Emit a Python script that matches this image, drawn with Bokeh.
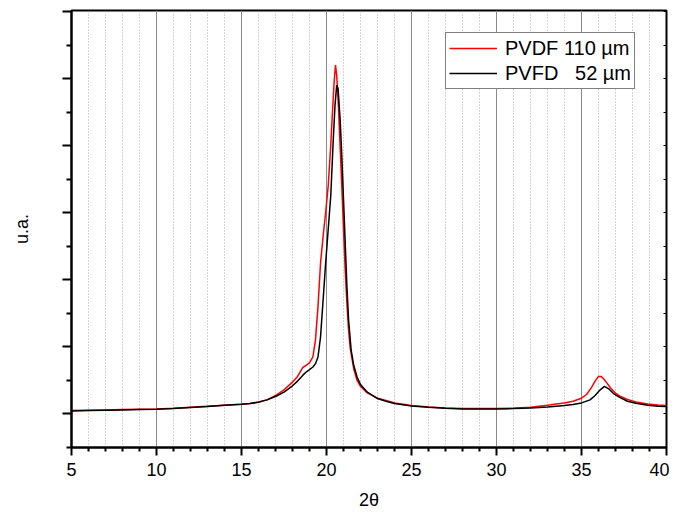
from bokeh.plotting import figure
from bokeh.models import FixedTicker, Range1d, LinearAxis, Legend, LegendItem
from bokeh.embed import file_html
from bokeh.resources import INLINE

# ---- data (arbitrary units) ----
x_red = [5, 6, 7, 8, 9, 10, 11, 12, 13, 14, 15, 15.5, 16, 16.5, 17, 17.5, 18, 18.3, 18.6, 18.8,
         19.0, 19.2, 19.35, 19.5, 19.65, 19.8, 19.95, 20.1, 20.25, 20.35, 20.45, 20.53, 20.6, 20.7,
         20.8, 20.9, 21.0, 21.1, 21.2, 21.3, 21.4, 21.6, 21.8, 22.0, 22.4, 23.0, 23.5, 24, 25, 26,
         27, 28, 29, 30, 31, 32, 33, 33.5, 34, 34.5, 35, 35.3, 35.6, 35.8, 36.0, 36.15, 36.3, 36.5,
         36.7, 37.0, 37.3, 37.7, 38.2, 38.9, 39.5, 40]
y_red = [1.10, 1.11, 1.12, 1.13, 1.14, 1.15, 1.17, 1.20, 1.23, 1.26, 1.29, 1.31, 1.36, 1.42, 1.55,
         1.72, 1.95, 2.12, 2.38, 2.45, 2.52, 2.70, 3.20, 4.20, 5.50, 6.30, 7.00, 7.80, 9.00, 10.0,
         10.9, 11.4, 11.1, 10.2, 9.0, 7.8, 6.5, 5.3, 4.3, 3.5, 2.95, 2.35, 2.0, 1.82, 1.63, 1.47,
         1.40, 1.33, 1.25, 1.21, 1.18, 1.16, 1.16, 1.16, 1.17, 1.20, 1.26, 1.30, 1.33, 1.38, 1.47,
         1.58, 1.80, 1.98, 2.12, 2.12, 2.05, 1.92, 1.78, 1.62, 1.52, 1.43, 1.36, 1.30, 1.27, 1.25]

x_black = [5, 6, 7, 8, 9, 10, 11, 12, 13, 14, 15, 15.5, 16, 16.5, 17, 17.5, 18, 18.3, 18.6, 18.8,
           19.0, 19.2, 19.35, 19.5, 19.65, 19.8, 19.95, 20.1, 20.25, 20.4, 20.5, 20.6, 20.68, 20.8,
           20.9, 21.0, 21.1, 21.2, 21.3, 21.45, 21.6, 21.8, 22.0, 22.4, 23.0, 23.5, 24, 25, 26, 27,
           28, 29, 30, 31, 32, 33, 34, 34.5, 35, 35.5, 35.8, 36.1, 36.35, 36.6, 36.9, 37.3, 37.7,
           38.2, 38.9, 39.5, 40]
y_black = [1.09, 1.10, 1.11, 1.12, 1.13, 1.14, 1.16, 1.19, 1.22, 1.26, 1.29, 1.31, 1.35, 1.42, 1.52,
           1.65, 1.84, 1.98, 2.15, 2.25, 2.32, 2.40, 2.50, 2.70, 3.30, 4.40, 5.50, 6.50, 7.50, 9.20,
           10.2, 10.8, 10.7, 9.8, 8.7, 7.4, 6.1, 4.8, 3.8, 2.9, 2.45, 2.10, 1.88, 1.65, 1.46, 1.38,
           1.31, 1.24, 1.20, 1.17, 1.15, 1.15, 1.15, 1.16, 1.18, 1.21, 1.25, 1.28, 1.33, 1.42, 1.55,
           1.72, 1.82, 1.75, 1.60, 1.48, 1.38, 1.32, 1.26, 1.23, 1.22]

x_major_ticks = [5, 10, 15, 20, 25, 30, 35, 40]
x_minor_ticks = [i for i in range(5, 41) if i % 5]
y_major_ticks = [1, 3, 5, 7, 9, 11, 13]
y_minor_ticks = [0, 2, 4, 6, 8, 10, 12]
labels = ["PVDF 110 µm", "PVFD \u00a0\u00a052 µm"]
FONT = "Liberation Sans"

p = figure(width=669, height=512, x_range=Range1d(5, 40), y_range=Range1d(0, 13.03),
           output_backend="svg", toolbar_location=None,
           min_border_left=71, min_border_top=10, min_border_right=3, min_border_bottom=64,
           x_axis_label="2θ", y_axis_label="u.a.")
p.outline_line_color = "black"
p.outline_line_width = 2
p.background_fill_color = "white"
p.border_fill_color = "white"

# x axis
xt = FixedTicker(ticks=x_major_ticks, minor_ticks=x_minor_ticks)
p.xaxis.ticker = xt
p.xaxis.axis_line_width = 2
p.xaxis.major_tick_line_width = 2
p.xaxis.minor_tick_line_width = 2
p.xaxis.major_tick_out = 8
p.xaxis.major_tick_in = 0
p.xaxis.minor_tick_out = 4
p.xaxis.minor_tick_in = 0
p.xaxis.major_label_standoff = 7
p.xaxis.major_label_text_font = FONT
p.xaxis.major_label_text_font_size = "18px"
p.xaxis.major_label_text_color = "black"
p.xaxis.axis_label_text_font = FONT
p.xaxis.axis_label_text_font_size = "18px"
p.xaxis.axis_label_text_font_style = "normal"
p.xaxis.axis_label_text_color = "black"
p.xaxis.axis_label_standoff = 11

# y axis (ticks, but no tick labels)
yt = FixedTicker(ticks=y_major_ticks, minor_ticks=y_minor_ticks)
p.yaxis.ticker = yt
p.yaxis.axis_line_width = 2
p.yaxis.major_tick_line_width = 2
p.yaxis.minor_tick_line_width = 2
p.yaxis.major_tick_out = 9
p.yaxis.major_tick_in = 0
p.yaxis.minor_tick_out = 5
p.yaxis.minor_tick_in = 0
p.yaxis.major_label_overrides = {t: "" for t in y_major_ticks}
p.yaxis.major_label_standoff = 0
p.yaxis.axis_label_text_font = FONT
p.yaxis.axis_label_text_font_size = "18px"
p.yaxis.axis_label_text_font_style = "normal"
p.yaxis.axis_label_text_color = "black"
p.yaxis.axis_label_standoff = 31

# right axis: short inner ticks only
ra = LinearAxis(ticker=FixedTicker(ticks=[], minor_ticks=y_minor_ticks + y_major_ticks),
                minor_tick_in=3, minor_tick_out=0, minor_tick_line_width=1,
                major_tick_in=0, major_tick_out=0, major_label_standoff=0,
                axis_line_color=None)
p.add_layout(ra, "right")

# grid
p.ygrid.visible = False
p.xgrid.ticker = xt
p.xgrid.grid_line_color = "#8a8a8a"
p.xgrid.grid_line_width = 1
p.xgrid.minor_grid_line_color = "#a8a8a8"
p.xgrid.minor_grid_line_dash = "1 2"
p.xgrid.minor_grid_line_width = 1

r_red = p.line(x_red, y_red, line_color="#ff0000", line_width=1.5)
r_black = p.line(x_black, y_black, line_color="black", line_width=1.5)

legend = Legend(items=[LegendItem(label=labels[0], renderers=[r_red]),
                       LegendItem(label=labels[1], renderers=[r_black])],
                location=(374, 358))
legend.border_line_color = "black"
legend.border_line_width = 1
legend.background_fill_alpha = 1
legend.padding = 3
legend.margin = 0
legend.spacing = 1
legend.glyph_width = 48
legend.glyph_height = 24
legend.label_height = 24
legend.label_standoff = 8
legend.label_text_font = FONT
legend.label_text_font_size = "20px"
legend.label_text_color = "black"
p.add_layout(legend)

open("out.html", "w").write(file_html(p, INLINE))
